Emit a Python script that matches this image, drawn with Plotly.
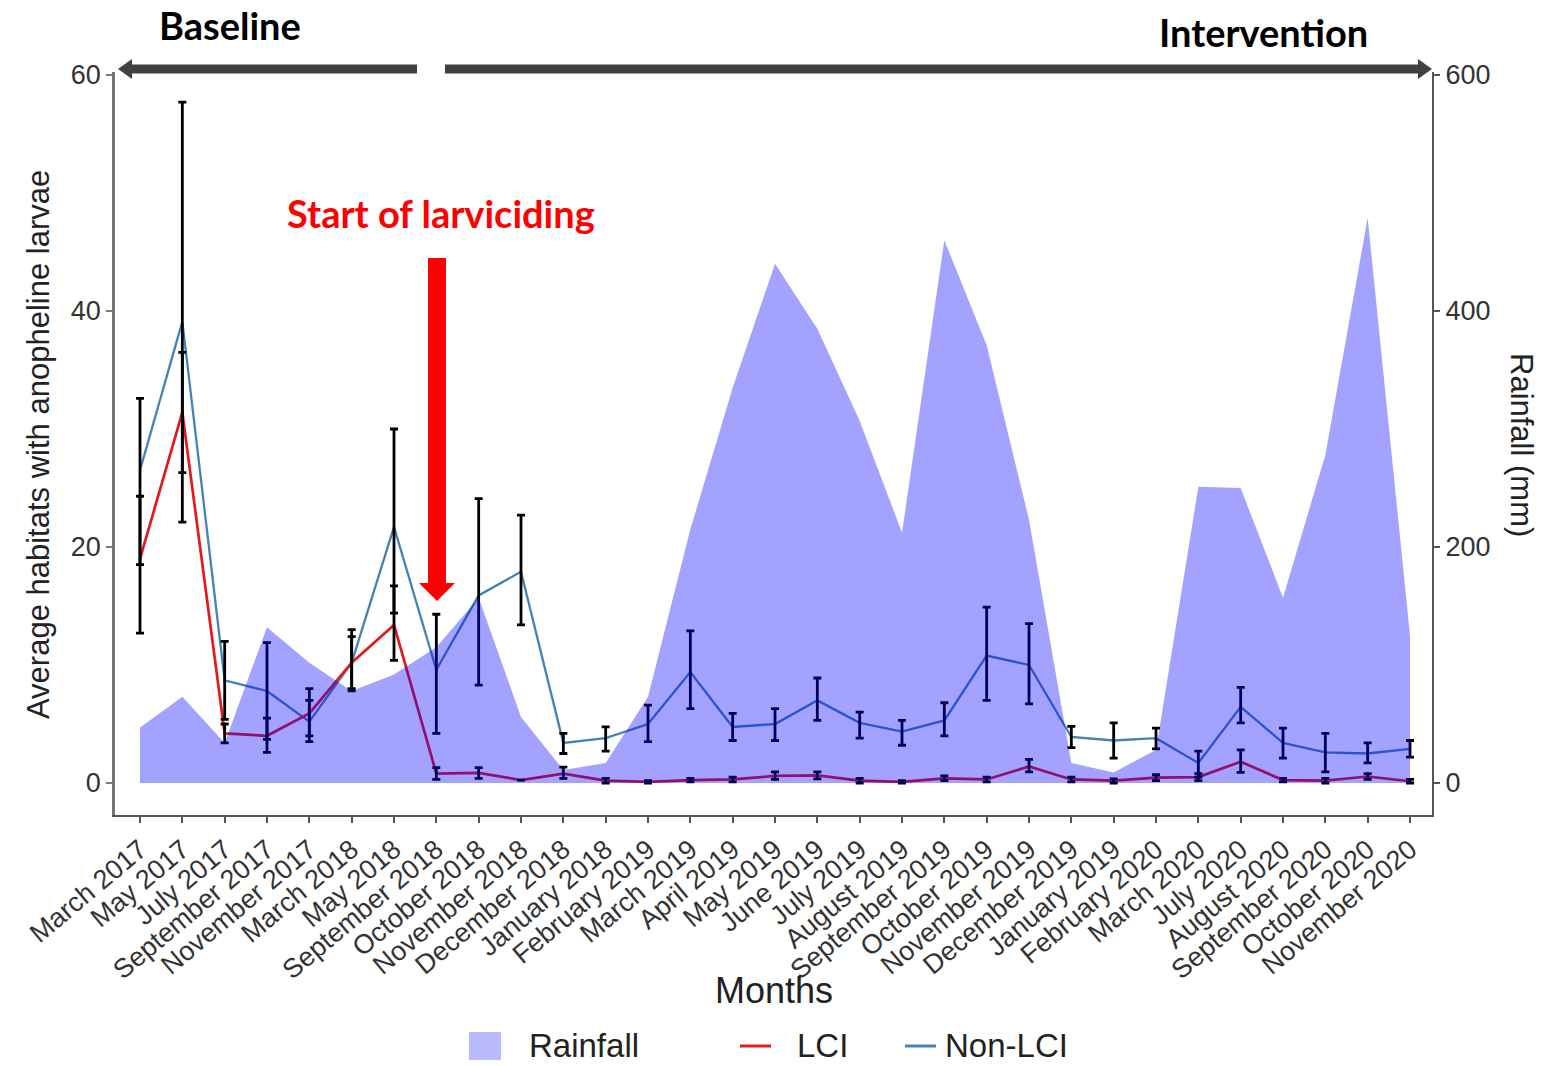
import plotly.graph_objects as go

# ---- data -------------------------------------------------------------
months = [
    "March 2017", "May 2017", "July 2017", "September 2017", "November 2017",
    "March 2018", "May 2018", "September 2018", "October 2018", "November 2018",
    "December 2018", "January 2018", "February 2019", "March 2019", "April 2019",
    "May 2019", "June 2019", "July 2019", "August 2019", "September 2019",
    "October 2019", "November 2019", "December 2019", "January 2019", "February 2020",
    "March 2020", "July 2020", "August 2020", "September 2020", "October 2020",
    "November 2020",
]

rainfall_mm = [47, 73, 34, 132, 102, 78, 92, 115, 157, 56,
               11, 17, 73, 215, 335, 440, 385, 307, 212, 460,
               371, 223, 17, 9, 28, 251, 250, 157, 278, 479, 125]

lci = [19.0, 31.4, 4.2, 4.0, 5.9, 10.2, 13.4, 0.8, 0.85, 0.25,
       0.8, 0.2, 0.1, 0.25, 0.3, 0.6, 0.65, 0.2, 0.1, 0.4,
       0.3, 1.4, 0.3, 0.2, 0.45, 0.5, 1.8, 0.25, 0.2, 0.55, 0.15]
lci_low = [12.7, 26.3, 3.4, 2.6, 4.0, 7.8, 10.4, 0.3, 0.4, 0.25,
           0.4, 0.0, 0.0, 0.1, 0.1, 0.3, 0.35, 0.0, 0.0, 0.2,
           0.1, 0.95, 0.1, 0.0, 0.2, 0.2, 0.9, 0.1, 0.0, 0.3, 0.0]
lci_high = [24.3, 36.5, 5.0, 5.5, 8.0, 13.0, 16.7, 1.3, 1.3, 0.25,
            1.35, 0.4, 0.2, 0.4, 0.5, 0.95, 0.95, 0.4, 0.2, 0.6,
            0.5, 2.0, 0.5, 0.35, 0.7, 0.8, 2.8, 0.4, 0.4, 0.8, 0.3]

non_lci = [26.5, 39.1, 8.7, 7.8, 5.2, 10.2, 21.7, 9.6, 15.9, 17.9,
           3.4, 3.8, 5.0, 9.4, 4.75, 5.0, 7.0, 5.1, 4.35, 5.3,
           10.8, 10.0, 3.9, 3.6, 3.8, 1.7, 6.45, 3.4, 2.6, 2.5, 2.9]
non_lci_low = [18.5, 22.1, 5.4, 3.7, 3.5, 8.0, 14.4, 4.2, 8.3, 13.4,
               2.5, 2.7, 3.5, 6.3, 3.6, 3.6, 5.3, 3.8, 3.2, 4.0,
               7.0, 6.7, 3.0, 2.1, 2.9, 0.5, 5.1, 2.1, 0.95, 1.7, 2.2]
non_lci_high = [32.6, 57.7, 12.0, 11.9, 7.0, 12.4, 30.0, 14.3, 24.1, 22.7,
                4.2, 4.75, 6.6, 12.9, 5.9, 6.3, 8.9, 6.0, 5.3, 6.8,
                14.9, 13.5, 4.8, 5.1, 4.65, 2.7, 8.1, 4.65, 4.2, 3.4, 3.6]

left_ticks = [0, 20, 40, 60]
right_ticks = [0, 200, 400, 600]

# ---- styling ----------------------------------------------------------
W, H = 1544, 1066
PL, PR, PT, PB = 115, 1432, 72, 815   # plot-area edges in pixels
FONT = "Liberation Sans, Arial, sans-serif"
BOLD = "Lato, Open Sans, sans-serif"
RED = "#e31a1c"
STEEL = "#4682b4"
AREA = "rgba(0,0,255,0.36)"
AREA_KEY = "rgba(0,0,255,0.27)"
ARROW_GREY = "#404040"


def px(x):
    return (x - PL) / (PR - PL)


def py(y):
    return (PB - y) / (PB - PT)


def err(vals, lo, hi):
    plus = [h - v for v, h in zip(vals, hi)]
    minus = [v - l for v, l in zip(vals, lo)]
    return dict(type="data", symmetric=False, array=plus, arrayminus=minus,
                color="black", thickness=2.8, width=4)


fig = go.Figure()

# series lines
fig.add_trace(go.Scatter(x=months, y=non_lci, mode="lines", name="Non-LCI",
                         line=dict(color=STEEL, width=2.3)))
fig.add_trace(go.Scatter(x=months, y=lci, mode="lines", name="LCI",
                         line=dict(color=RED, width=2.7)))

# error bars drawn above both lines
fig.add_trace(go.Scatter(x=months, y=non_lci, mode="markers",
                         marker=dict(size=1, color="rgba(0,0,0,0)"),
                         error_y=err(non_lci, non_lci_low, non_lci_high),
                         hoverinfo="skip"))
fig.add_trace(go.Scatter(x=months, y=lci, mode="markers",
                         marker=dict(size=1, color="rgba(0,0,0,0)"),
                         error_y=err(lci, lci_low, lci_high),
                         hoverinfo="skip"))

# rainfall area on the secondary axis (rendered on top, translucent)
fig.add_trace(go.Scatter(x=months, y=rainfall_mm, yaxis="y2", mode="lines",
                         name="Rainfall", fill="tozeroy", fillcolor=AREA,
                         line=dict(width=0, color=AREA)))

x_range = [-25 / 42.333, 30 + 22 / 42.333]
y_lo = -(PB - 783) / 11.8
y_hi = 60 + (75 - PT) / 11.8

fig.update_layout(
    width=W, height=H,
    margin=dict(l=PL, r=W - PR, t=PT, b=H - PB, pad=0),
    plot_bgcolor="white", paper_bgcolor="white",
    font=dict(family=FONT, color="#333333"),
    showlegend=False,
    xaxis=dict(
        type="category", range=x_range, showgrid=False, zeroline=False,
        showline=True, linecolor="#555555", linewidth=2,
        ticks="outside", ticklen=6, tickcolor="#555555", tickwidth=1.5,
        tickangle=-40, tickfont=dict(size=27, family=FONT, color="#333333"),
    ),
    yaxis=dict(
        range=[y_lo, y_hi], showgrid=False, zeroline=False,
        showline=True, linecolor="#777777", linewidth=2.5,
        ticks="outside", ticklen=6, tickcolor="#777777", tickwidth=1.5,
        tickvals=left_ticks, ticktext=[str(v) for v in left_ticks],
        tickfont=dict(size=27, family=FONT, color="#333333"),
    ),
    yaxis2=dict(
        overlaying="y", side="right", range=[y_lo * 10, y_hi * 10],
        showgrid=False, zeroline=False,
        showline=True, linecolor="#555555", linewidth=2,
        ticks="outside", ticklen=6, tickcolor="#555555", tickwidth=1.5,
        tickvals=right_ticks, ticktext=[str(v) for v in right_ticks],
        tickfont=dict(size=27, family=FONT, color="#333333"),
    ),
)


def label(text, x, y, size, family=FONT, color="#222222", angle=0, anchor="center"):
    fig.add_annotation(text=text, xref="paper", yref="paper", x=px(x), y=py(y),
                       xanchor=anchor, yanchor="middle", textangle=angle,
                       showarrow=False, font=dict(size=size, family=family, color=color))


# axis titles
label("Average habitats with anopheline larvae", 38, 445, 31, angle=-90)
label("Rainfall (mm)", 1522, 445, 31, angle=90)
label("Months", 774, 990, 36)

# period labels and larviciding marker
label("<b>Baseline</b>", 230, 25, 38, family=BOLD, color="black")
label("<b>Intervention</b>", 1263, 32, 38, family=BOLD, color="black")
label("<b>Start of larviciding</b>", 441, 213, 38, family=BOLD, color="#ff0000")

# legend entries
label("Rainfall", 527, 1045, 33, anchor="left")
label("LCI", 795, 1045, 33, anchor="left")
label("Non-LCI", 943, 1045, 33, anchor="left")


def tri(points):
    return "M " + " L ".join(f"{px(a)},{py(b)}" for a, b in points) + " Z"


def rect(x0, x1, y0, y1, color):
    return dict(type="rect", xref="paper", yref="paper", x0=px(x0), x1=px(x1),
                y0=py(y1), y1=py(y0), fillcolor=color, line=dict(width=0))


shapes = [
    # baseline arrow (pointing left)
    rect(128, 417, 64.5, 73.5, ARROW_GREY),
    dict(type="path", xref="paper", yref="paper",
         path=tri([(118, 69), (132, 59), (132, 79)]),
         fillcolor=ARROW_GREY, line=dict(width=0)),
    # intervention arrow (pointing right)
    rect(445, 1420, 64.5, 73.5, ARROW_GREY),
    dict(type="path", xref="paper", yref="paper",
         path=tri([(1432, 69), (1418, 59), (1418, 79)]),
         fillcolor=ARROW_GREY, line=dict(width=0)),
    # larviciding arrow
    rect(428, 446, 258, 585, "#ff0000"),
    dict(type="path", xref="paper", yref="paper",
         path=tri([(419, 583), (455, 583), (437, 601)]),
         fillcolor="#ff0000", line=dict(width=0)),
    # legend keys
    rect(469, 501, 1032, 1060, AREA_KEY),
    dict(type="line", xref="paper", yref="paper", x0=px(740), x1=px(771),
         y0=py(1046), y1=py(1046), line=dict(color=RED, width=3)),
    dict(type="line", xref="paper", yref="paper", x0=px(905), x1=px(936),
         y0=py(1046), y1=py(1046), line=dict(color=STEEL, width=3)),
]
fig.update_layout(shapes=shapes)

fig.write_html("out.html")
